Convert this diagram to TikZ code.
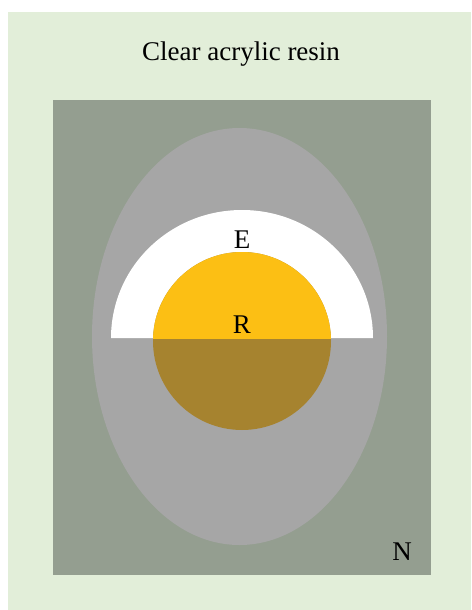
\documentclass[tikz,border=0pt]{standalone}
\usepackage{fontspec}
\setmainfont{Liberation Serif}
\definecolor{bgl}{HTML}{E2EED9}
\definecolor{darkbox}{HTML}{949E90}
\definecolor{egray}{HTML}{A6A6A6}
\definecolor{yolk}{HTML}{FCBF14}
\definecolor{yolkdark}{HTML}{A6832F}
\tikzset{lbl/.style={anchor=base,font=\fontsize{27}{31}\selectfont,text=black,inner sep=0pt}}
\begin{document}
\begin{tikzpicture}[x=1pt,y=-1pt]
\useasboundingbox (0,0) rectangle (471,610);
\fill[white] (0,0) rectangle (471,610);
\fill[bgl] (8,12) rectangle (471,610);
\fill[darkbox] (53,100) rectangle (431,575);
\fill[egray] (239.5,336.5) ellipse [x radius=147.5, y radius=208.5];
\fill[white] (111,338) arc[start angle=180,end angle=360,x radius=131,y radius=128] -- cycle;
\fill[yolkdark] (242,341) circle[radius=89];
\begin{scope}
\clip (140,240) rectangle (345,338);
\fill[yolk] (242,341) circle[radius=89];
\end{scope}
\node[lbl] (title) at (241,60) {Clear acrylic resin};
\node[lbl] (E) at (242,248) {E};
\node[lbl] (R) at (242,333) {R};
\node[lbl] (N) at (402,560) {N};
\end{tikzpicture}
\end{document}
